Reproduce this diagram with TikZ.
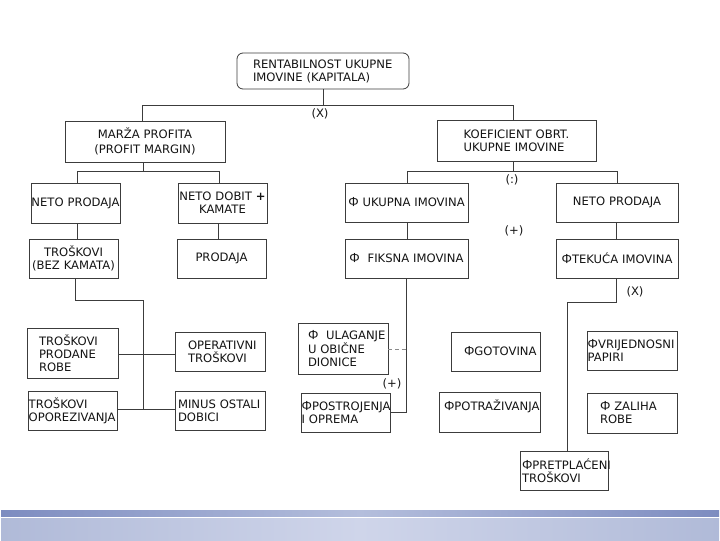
\documentclass[tikz,border=0pt]{standalone}
\usepackage{fontspec}
\setmainfont{DejaVu Sans}
\newfontfamily\phifont{Liberation Sans}
\newcommand\fs{\fontsize{8.7pt}{9.7pt}\selectfont\hyphenpenalty=10000\exhyphenpenalty=10000}
\newcommand\ph{{\phifont\fontsize{9.8pt}{9.7pt}\selectfont Φ}}
\definecolor{txt}{RGB}{20,20,20}
\definecolor{ln}{RGB}{60,60,60}
\definecolor{bandA}{RGB}{125,140,192}
\definecolor{bandB}{RGB}{180,190,220}
\definecolor{bandC}{RGB}{176,186,216}
\definecolor{bandD}{RGB}{207,213,234}
\tikzset{
  box/.style={draw=ln, line width=0.6pt, fill=white, text=txt, font=\fs, inner ysep=0pt},
  lbl/.style={text=txt, font=\fs, inner sep=0pt},
  conn/.style={draw=ln, line width=0.6pt},
}
\begin{document}
\begin{tikzpicture}[x=0.75pt,y=-0.75pt]
\useasboundingbox (0,0) rectangle (720,540);
% bands
\shade[left color=bandA, right color=bandA, middle color=bandB] (1,510) rectangle (719,516);
\shade[left color=bandC, right color=bandC, middle color=bandD] (1,518) rectangle (719,540);
% top
\node[box, rounded corners=4.5pt, minimum height=27pt, inner xsep=12pt, text width=105pt, align=left] (top) at (323,71) {\mbox{RENTABILNOST UKUPNE}\\\mbox{IMOVINE (KAPITALA)}};
% level 2
\node[box, minimum height=30.75pt, text width=120pt, inner xsep=0pt, align=center] (marza) at (145,141.5) {MARŽA PROFITA\\[1.5pt](PROFIT MARGIN)};
\node[box, minimum height=30.75pt, inner xsep=20pt, text width=79.25pt, align=left] (koef) at (516.5,140.5) {\mbox{KOEFICIENT OBRT.}\\\mbox{UKUPNE IMOVINE}};
% level 3 left
\node[box, minimum height=30pt, text width=66.75pt, inner xsep=0pt, align=center] (netoL) at (75.5,203) {NETO PRODAJA};
\node[box, minimum height=30pt, text width=66.75pt, inner xsep=0pt, align=center] (dobit) at (222.5,203) {\mbox{NETO DOBIT \textbf{+}}\\KAMATE};
\node[box, minimum height=29.25pt, text width=66.75pt, inner xsep=0pt, align=center] (trosk) at (73.5,258.5) {TROŠKOVI\\\mbox{(BEZ KAMATA)}};
\node[box, minimum height=29.25pt, text width=66.75pt, inner xsep=0pt, align=center] (prodaja) at (221.5,258.5) {PRODAJA};
% level 5 left
\node[box, minimum height=37.5pt, inner xsep=9pt, text width=50.25pt, align=left] (tpr) at (72.5,353) {TROŠKOVI\\PRODANE\\ROBE};
\node[box, minimum height=29.25pt, inner xsep=9.75pt, text width=48pt, align=left] (oper) at (220,351.5) {\mbox{OPERATIVNI}\\TROŠKOVI};
\node[box, minimum height=29.25pt, inner xsep=0.5pt, text width=65.75pt, align=left] (topor) at (72.5,410.5) {TROŠKOVI\\\mbox{OPOREZIVANJA}};
\node[box, minimum height=29.25pt, inner xsep=2.25pt, text width=63pt, align=left] (minus) at (220,410.5) {\mbox{MINUS OSTALI}\\DOBICI};
% right level 3
\node[box, minimum height=29.25pt, text width=92.25pt, inner xsep=0pt, align=center] (ukupna) at (406.5,202.5) {\mbox{\ph\ UKUPNA IMOVINA}};
\node[box, minimum height=29.25pt, text width=91.5pt, inner xsep=0pt, align=center] (netoR) at (617,202.5) {NETO PRODAJA};
\node[box, minimum height=29.25pt, text width=92.25pt, inner xsep=0pt, align=center] (fiksna) at (406.5,258.5) {\mbox{\ph\ \ FIKSNA IMOVINA}};
\node[box, minimum height=29.25pt, text width=91.5pt, inner xsep=0pt, align=center] (tekuca) at (617,258.5) {\mbox{\ph TEKUĆA IMOVINA}};
% right level 5
\node[box, minimum height=38.25pt, inner xsep=7.5pt, text width=52.5pt, align=left] (ulag) at (343,348.5) {\mbox{\ph\ \ ULAGANJE}\\U OBIČNE\\DIONICE};
\node[box, minimum height=29.25pt, inner xsep=0.5pt, text width=65.75pt, align=left] (postr) at (345.5,412.5) {\mbox{\ph POSTROJENJA}\\I OPREMA};
\node[box, minimum height=29.25pt, inner xsep=9.75pt, text width=47.25pt, align=left] (gotov) at (495.5,351.5) {\mbox{\ph GOTOVINA}};
\node[box, minimum height=30pt, inner xsep=3.75pt, text width=68.25pt, align=left] (potr) at (489.5,412) {\mbox{\ph POTRAŽIVANJA}\\\mbox{}};
\node[box, minimum height=29.25pt, inner xsep=0.5pt, text width=66.5pt, align=left] (vrij) at (632,350.5) {\mbox{\ph VRIJEDNOSNI}\\PAPIRI};
\node[box, minimum height=30pt, inner xsep=9.75pt, text width=48pt, align=left] (zal) at (632,413) {\mbox{\ph\ ZALIHA}\\ROBE};
\node[box, minimum height=29.25pt, inner xsep=1.5pt, text width=63pt, align=left] (pretp) at (564,470.5) {\mbox{\ph PRETPLAĆENI}\\TROŠKOVI};
% junction coordinates
\coordinate (bL) at (142,105);
\coordinate (bR) at (513,105);
\coordinate (cL) at (77,171);
\coordinate (cR) at (219,171);
\coordinate (cM) at (143,171);
\coordinate (dL) at (407,171);
\coordinate (dR) at (617,171);
\coordinate (dM) at (513,171);
\coordinate (eA) at (75,300);
\coordinate (eB) at (143,300);
\coordinate (eC) at (143,409);
\coordinate (eD) at (143,354);
\coordinate (fA) at (406,412);
\coordinate (fB) at (406,349);
\coordinate (gA) at (616,302);
\coordinate (gB) at (567,302);
% connectors
\draw[conn] (top.south) -- (top.south |- bL);
\draw[conn] (bL |- marza.north) -- (bL) -- (bR) -- (bR |- koef.north);
\draw[conn] (cM |- marza.south) -- (cM);
\draw[conn] (cL |- netoL.north) -- (cL) -- (cR) -- (cR |- dobit.north);
\draw[conn] (cL |- netoL.south) -- (cL |- trosk.north);
\draw[conn] ([xshift=-3pt]dobit.south) -- ([xshift=-3pt]dobit.south |- prodaja.north);
\draw[conn] (eA |- trosk.south) -- (eA) -- (eB) -- (eC);
\draw[conn] (tpr.east |- eD) -- (oper.west |- eD);
\draw[conn] (topor.east |- eC) -- (minus.west |- eC);
\draw[conn] (dM |- koef.south) -- (dM);
\draw[conn] (dL |- ukupna.north) -- (dL) -- (dR) -- (dR |- netoR.north);
\draw[conn] (dL |- ukupna.south) -- (dL |- fiksna.north);
\draw[conn] (gA |- netoR.south) -- (gA |- tekuca.north);
\draw[conn] (fA |- fiksna.south) -- (fA) -- (postr.east |- fA);
\draw[conn, draw=ln!60, densely dashed] (ulag.east |- fB) -- (fB);
\draw[conn] (gA |- tekuca.south) -- (gA) -- (gB) -- (gB |- pretp.north);
% operator labels
\node[lbl] (opX1) at (320,114) {(X)};
\node[lbl] (opD) at (512,180) {(:)};
\node[lbl] (opP1) at (514,231) {(+)};
\node[lbl] (opP2) at (392,384) {(+)};
\node[lbl] (opX2) at (635,292) {(X)};
\end{tikzpicture}
\end{document}
